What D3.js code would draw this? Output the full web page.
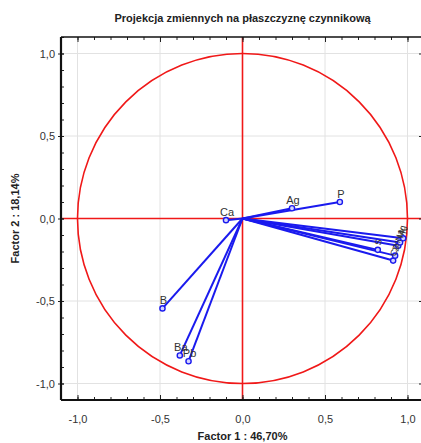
<!DOCTYPE html>
<html lang="pl">
<head>
<meta charset="utf-8">
<title>Projekcja zmiennych</title>
<style>
body{
  margin: 0;
  background: #fff;
}
svg text{
  font-family: "Liberation Sans", Arial, sans-serif;
}
.tick text{
  font-size: 11px;
  fill: #333;
}
.title, .axlabel{
  font-size: 11px;
  font-weight: bold;
  fill: #222;
}
.lbl{
  font-size: 11px;
  fill: #333;
}
</style>
</head>
<body>
<div id="chart"></div>
<script src="https://d3js.org/d3.v7.min.js"></script>
<script>
// variable names and their loadings on factor 1 and factor 2
var names = ["Ca", "Ag", "P", "B", "Ba", "Pb", "S", "Cu", "Zn", "Na", "Mg", "K"];
var f1 = [-0.10, 0.30, 0.59, -0.485, -0.38, -0.327, 0.82, 0.913, 0.925, 0.944, 0.955, 0.974];
var f2 = [-0.01, 0.062, 0.10, -0.545, -0.83, -0.865, -0.19, -0.255, -0.225, -0.165, -0.145, -0.12];
var majorTicks = [-1.0, -0.5, 0.0, 0.5, 1.0];
var crowded = 6; // labels from this index on are packed together and drawn turned

var W = 421, H = 443;
var margin = { top: 37, left: 61 };
var size = 363;

var svg = d3.select("#chart").append("svg")
  .attr("width", W)
  .attr("height", H);

var x = d3.scaleLinear().domain([-1.1, 1.1]).range([0, size]);
var y = d3.scaleLinear().domain([-1.1, 1.1]).range([size, 0]);
var fmt = (d) => d3.format(".1f")(d).replace(".", ",").replace("−", "-");
var minor = d3.range(-11, 12).map((i) => i / 10);

var g = svg.append("g")
  .attr("transform", `translate(${margin.left}, ${margin.top})`);

// grid
g.selectAll(".gx").data(majorTicks).enter().append("line")
  .attr("x1", (d) => x(d)).attr("x2", (d) => x(d))
  .attr("y1", 0).attr("y2", size)
  .attr("stroke", "#e2e2e2");
g.selectAll(".gy").data(majorTicks).enter().append("line")
  .attr("y1", (d) => y(d)).attr("y2", (d) => y(d))
  .attr("x1", 0).attr("x2", size)
  .attr("stroke", "#e2e2e2");

// unit circle and cross
g.append("circle")
  .attr("cx", x(0)).attr("cy", y(0))
  .attr("r", x(1) - x(0))
  .attr("fill", "none")
  .attr("stroke", "#f01818")
  .attr("stroke-width", 1.6);
g.append("line")
  .attr("x1", 0).attr("x2", size)
  .attr("y1", y(0)).attr("y2", y(0))
  .attr("stroke", "#f01818").attr("stroke-width", 1.6);
g.append("line")
  .attr("x1", x(0)).attr("x2", x(0))
  .attr("y1", 0).attr("y2", size)
  .attr("stroke", "#f01818").attr("stroke-width", 1.6);

// axes: minor ticks inside, major ticks labelled
function inner(axisGen, scale, tr) {
  g.append("g").attr("transform", tr)
    .call(axisGen(scale).tickValues(minor).tickSize(-3).tickFormat(""))
    .call((s) => s.select(".domain").remove())
    .selectAll("line").attr("stroke", "#222");
}
inner(d3.axisBottom, x, `translate(0, ${size})`);
inner(d3.axisTop, x, "translate(0, 0)");
inner(d3.axisLeft, y, "translate(0, 0)");
inner(d3.axisRight, y, `translate(${size}, 0)`);

var xAxis = g.append("g")
  .attr("transform", `translate(0, ${size})`)
  .call(d3.axisBottom(x).tickValues(majorTicks).tickSize(-5).tickPadding(15).tickFormat(fmt));
var yAxis = g.append("g")
  .call(d3.axisLeft(y).tickValues(majorTicks).tickSize(3).tickPadding(3).tickFormat(fmt));
var xTop = g.append("g")
  .call(d3.axisTop(x).tickValues(majorTicks).tickSize(-5).tickFormat(""));
var yRight = g.append("g")
  .attr("transform", `translate(${size}, 0)`)
  .call(d3.axisRight(y).tickValues(majorTicks).tickSize(-5).tickFormat(""));
[xAxis, yAxis, xTop, yRight].forEach((a) => {
  a.select(".domain").remove();
  a.selectAll("line").attr("stroke", "#222");
});
yAxis.selectAll(".tick line").attr("transform", "translate(3,0)").attr("x2", -6);

// frame
g.append("line").attr("x1", 0).attr("x2", size).attr("y1", 0).attr("y2", 0)
  .attr("stroke", "#111").attr("stroke-width", 1.5);
g.append("line").attr("x1", size).attr("x2", size).attr("y1", 0).attr("y2", size)
  .attr("stroke", "#111").attr("stroke-width", 1.5);
g.append("line").attr("x1", 0).attr("x2", size).attr("y1", size).attr("y2", size)
  .attr("stroke", "#111").attr("stroke-width", 2.2);
g.append("line").attr("x1", 0).attr("x2", 0).attr("y1", 0).attr("y2", size)
  .attr("stroke", "#111").attr("stroke-width", 2.2);

// vectors
var idx = d3.range(names.length);
g.selectAll(".vec").data(idx).enter().append("line")
  .attr("x1", x(0)).attr("y1", y(0))
  .attr("x2", (i) => x(f1[i])).attr("y2", (i) => y(f2[i]))
  .attr("stroke", "#1a1aee")
  .attr("stroke-width", 2);
g.selectAll(".pt").data(idx).enter().append("circle")
  .attr("cx", (i) => x(f1[i])).attr("cy", (i) => y(f2[i]))
  .attr("r", 2.6)
  .attr("fill", "#d4d4ff")
  .attr("stroke", "#1a1aee")
  .attr("stroke-width", 1.4);
g.selectAll(".lbl").data(idx).enter().append("text")
  .attr("class", "lbl")
  .attr("text-anchor", (i) => i < crowded ? "middle" : "start")
  .attr("transform", (i) => {
    var px = x(f1[i]) + 1, py = y(f2[i]) - 4;
    return i < crowded ? `translate(${px}, ${py})`
      : `translate(${px + 2}, ${py}) rotate(-78)`;
  })
  .style("font-size", (i) => i < crowded ? "11px" : "9px")
  .text((i) => names[i]);

// titles
svg.append("text").attr("class", "title")
  .attr("x", margin.left + x(0)).attr("y", 22)
  .attr("text-anchor", "middle")
  .text("Projekcja zmiennych na płaszczyznę czynnikową");
svg.append("text").attr("class", "axlabel")
  .attr("x", margin.left + x(0)).attr("y", 440)
  .attr("text-anchor", "middle")
  .text("Factor 1 : 46,70%");
svg.append("text").attr("class", "axlabel")
  .attr("transform", `translate(19, ${margin.top + y(0)}) rotate(-90)`)
  .attr("text-anchor", "middle")
  .text("Factor 2 : 18,14%");
</script>
</body>
</html>
